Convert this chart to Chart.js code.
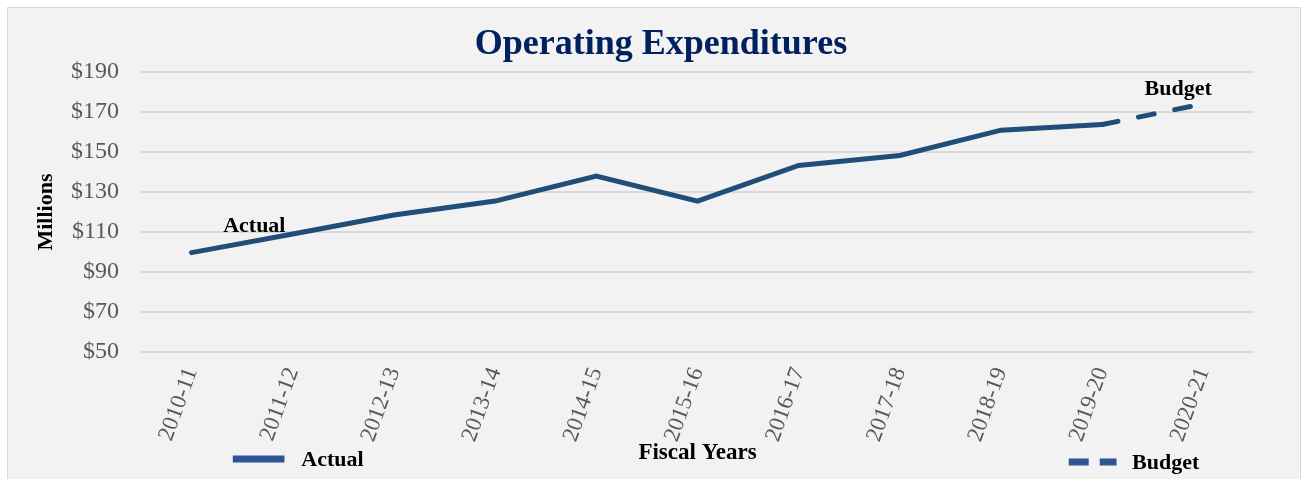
<!DOCTYPE html>
<html>
<head>
<meta charset="utf-8">
<script src="https://cdn.jsdelivr.net/npm/chart.js@4"></script>
<style>
  html, body { margin: 0; padding: 0; background: #fff; }
  #box {
    position: absolute; left: 7px; top: 7px;
    width: 1292px; height: 474px;
    background: #f2f2f2; border: 1px solid #d9d9d9;
  }
</style>
</head>
<body>
<div id="box"><canvas id="opexChart"></canvas></div>
<script>
// Fiscal years and spending (millions of $)
const years = ['2010-11', '2011-12', '2012-13', '2013-14', '2014-15', '2015-16',
               '2016-17', '2017-18', '2018-19', '2019-20', '2020-21'];
const actual = [99.7, 109, 118.5, 125.5, 138, 125.5, 143.3, 148.3, 161, 163.8, null];
const budget = [null, null, null, null, null, null, null, null, null, 163.8, 174.2];
const yTicks = [50, 70, 90, 110, 130, 150, 170, 190];

const SERIF = "'Liberation Serif', 'Times New Roman', serif";
const lineColor = '#1f4e79';
const legendColor = '#2f5597';

// labels on the lines + the split legend at the bottom
const extrasPlugin = {
    id: 'extras',
    afterDraw(chart) {
        const { ctx, scales: { x, y } } = chart;
        ctx.save();
        ctx.fillStyle = '#000';
        ctx.font = 'bold 22px ' + SERIF;
        ctx.textAlign = 'center';
        ctx.textBaseline = 'middle';
        ctx.fillText('Actual', x.getPixelForValue(0.62), y.getPixelForValue(113));
        ctx.fillText('Budget', x.getPixelForValue(9.75), y.getPixelForValue(181.5));

        // legend
        const w = chart.width;
        ctx.lineCap = 'butt';
        ctx.lineWidth = 7;
        ctx.strokeStyle = legendColor;
        ctx.beginPath();
        ctx.moveTo(w * 0.174, 451);
        ctx.lineTo(w * 0.214, 451);
        ctx.stroke();
        ctx.setLineDash([20, 11]);
        ctx.beginPath();
        ctx.moveTo(w * 0.821, 454);
        ctx.lineTo(w * 0.858, 454);
        ctx.stroke();
        ctx.setLineDash([]);
        ctx.textAlign = 'left';
        ctx.fillStyle = '#000';
        ctx.fillText('Actual', w * 0.227, 452);
        ctx.fillText('Budget', w * 0.870, 455);
        ctx.restore();
    }
};

new Chart(document.getElementById('opexChart'), {
    type: 'line',
    data: {
        labels: years,
        datasets: [{
            label: 'Actual',
            data: actual,
            borderColor: lineColor,
            borderWidth: 5,
            pointRadius: 0,
            borderCapStyle: 'round',
            borderJoinStyle: 'miter',
            tension: 0
        }, {
            label: 'Budget',
            data: budget,
            borderColor: lineColor,
            borderWidth: 5,
            borderDash: [16, 21],
            borderCapStyle: 'round',
            pointRadius: 0,
            tension: 0
        }]
    },
    options: {
        responsive: true,
        maintainAspectRatio: false,
        animation: false,
        layout: { padding: { left: 25, right: 11, top: 0, bottom: 15 } },
        plugins: {
            legend: { display: false },
            tooltip: { enabled: false },
            title: {
                display: true,
                text: 'Operating Expenditures',
                color: '#002060',
                font: { family: SERIF, size: 36, weight: 'bold' },
                padding: { top: 15, bottom: 6 }
            }
        },
        scales: {
            x: {
                offset: true,
                grid: { display: false, drawTicks: false },
                border: { display: false },
                afterFit: axis => { axis.paddingLeft = 0; axis.paddingRight = 46; },
                ticks: {
                    color: '#595959',
                    font: { family: SERIF, size: 23 },
                    minRotation: 70, maxRotation: 70,
                    padding: 12
                },
                title: {
                    display: true,
                    text: 'Fiscal Years',
                    color: '#000',
                    font: { family: SERIF, size: 23, weight: 'bold' },
                    padding: { top: -18, bottom: 0 }
                }
            },
            y: {
                min: 50,
                max: 190,
                afterBuildTicks: axis => { axis.ticks = yTicks.map(v => ({ value: v })); },
                afterFit: axis => { axis.width = 108; },
                grid: { color: '#d9d9d9', lineWidth: 2, drawTicks: false },
                border: { display: false },
                ticks: {
                    color: '#595959',
                    font: { family: SERIF, size: 24 },
                    padding: 22,
                    callback: v => '$' + v
                },
                title: {
                    display: true,
                    text: 'Millions',
                    color: '#000',
                    font: { family: SERIF, size: 22, weight: 'bold' },
                    padding: { top: 0, bottom: 12 }
                }
            }
        }
    },
    plugins: [extrasPlugin]
});
</script>
</body>
</html>
